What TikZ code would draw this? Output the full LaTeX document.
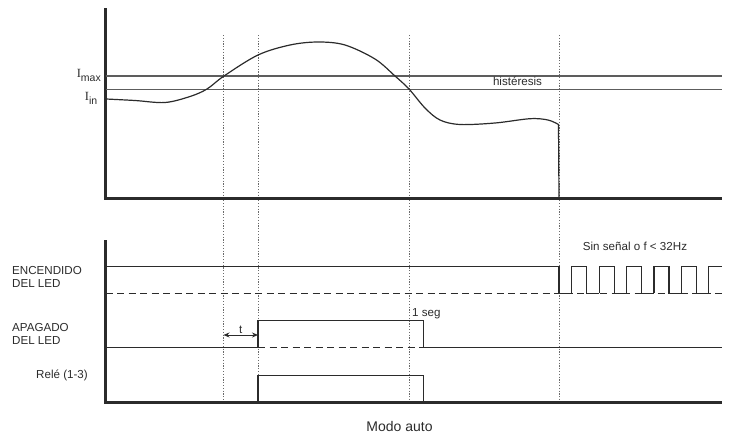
\documentclass[tikz,border=0pt]{standalone}
\usepackage{fontspec}
\setmainfont{Liberation Sans}
\newfontfamily\serifI{Liberation Serif}
\usetikzlibrary{calc, arrows.meta}

\definecolor{ink}{HTML}{2B2B2B}
\definecolor{guide}{HTML}{6A6A6A}

\tikzset{
  axis/.style={ink, line width=2.4pt},
  signal/.style={ink, line width=1.2pt},
  lowref/.style={ink, line width=1.1pt, dash pattern=on 7pt off 4.5pt},
  guideline/.style={guide, line width=0.9pt, dash pattern=on 1.2pt off 1.6pt},
  label/.style={inner sep=0pt, font=\fontsize{11.6}{12.7}\selectfont, text=ink}
}

\begin{document}
\begin{tikzpicture}[x=1pt, y=-1pt]
  \useasboundingbox (0,0) rectangle (732,442);

  % time marks
  \foreach \tx in {223.5, 258, 409.5, 559}
    \draw[guideline] (\tx,35) -- (\tx,402);

  % upper plot: current
  \coordinate (O1) at (105.5,198.5);
  \draw[axis] (105.5,8) -- (O1) -- (722,198.5);
  \coordinate (Imax) at (105.5,76);
  \coordinate (Iin) at (105.5,89.3);
  \draw[signal, guide!80!ink] (Imax) -- (722,76);
  \draw[signal, guide!80!ink] (Iin) -- (722,89.3);
  \node[label, anchor=east] (imaxlbl) at (101,75.5) {{\serifI\fontsize{12.5}{12}\selectfont I}\raisebox{-4pt}{\fontsize{10.5}{10}\selectfont max}};
  \node[label, anchor=east] (iinlbl) at (97.5,98.5) {{\serifI\fontsize{12.5}{12}\selectfont I}\raisebox{-4pt}{\fontsize{10.5}{10}\selectfont in}};
  \node[label] (hyst) at (517.5,81.5) {histéresis};
  \draw[signal] plot[smooth, tension=0.55] coordinates {
    (106,99) (135,100.5) (165,102.5) (190,96.5) (207,89) (224,76)
    (258,55) (290,45) (318,42) (345,45) (375,59) (395,76) (409,89)
    (425,108) (440,120) (460,124.5) (495,123) (530,118.7) (548,120)
    (558.5,124.5)} -- (559,198.5);

  % lower plot: outputs
  \coordinate (O2) at (105.5,402.5);
  \draw[axis] (105.5,240) -- (O2) -- (722,402.5);

  % LED on
  \draw[lowref] (105.5,293.3) -- (722,293.3);
  \draw[signal] (105.5,266.7) -- (559,266.7) -- (559,293.3) -- (571.7,293.3);
  \foreach \i in {0,...,4}
    \draw[signal] ({571.7+27.4*\i},293.3) -- ({571.7+27.4*\i},266.7)
      -- ({586.7+27.4*\i},266.7) -- ({586.7+27.4*\i},293.3) -- ({599.1+27.4*\i},293.3);
  \draw[signal] (708.7,293.3) -- (708.7,266.7) -- (722,266.7);
  \node[label] (nosig) at (635,246) {Sin señal o f < 32Hz};

  % LED off
  \draw[lowref] (258,347.7) -- (423.5,347.7);
  \draw[signal] (105.5,347.7) -- (258,347.7) -- (258,320.7) -- (423.5,320.7)
    -- (423.5,347.7) -- (722,347.7);
  \coordinate (ta) at (223.5,335);
  \coordinate (tb) at (258,335);
  \draw[signal, line width=0.9pt, {Stealth[length=6pt,width=5pt]}-{Stealth[length=6pt,width=5pt]}] (ta) -- (tb);
  \node[label, above=1.5pt] (tlbl) at ($(ta)!0.5!(tb)$) {t};
  \node[label, anchor=west] (seg) at (412,313.5) {1 seg};

  % relay
  \draw[signal] (258,402.5) -- (258,375.3) -- (423.5,375.3) -- (423.5,402.5);

  % channel names
  \node[label, anchor=west, align=left] (enc) at (12,277) {ENCENDIDO\\DEL LED};
  \node[label, anchor=west, align=left] (apag) at (12,334) {APAGADO\\DEL LED};
  \node[label, anchor=east] (rele) at (88,375.5) {Relé (1-3)};

  \node[label, font=\fontsize{14}{14}\selectfont] (modo) at (399.5,426) {Modo auto};
\end{tikzpicture}
\end{document}
